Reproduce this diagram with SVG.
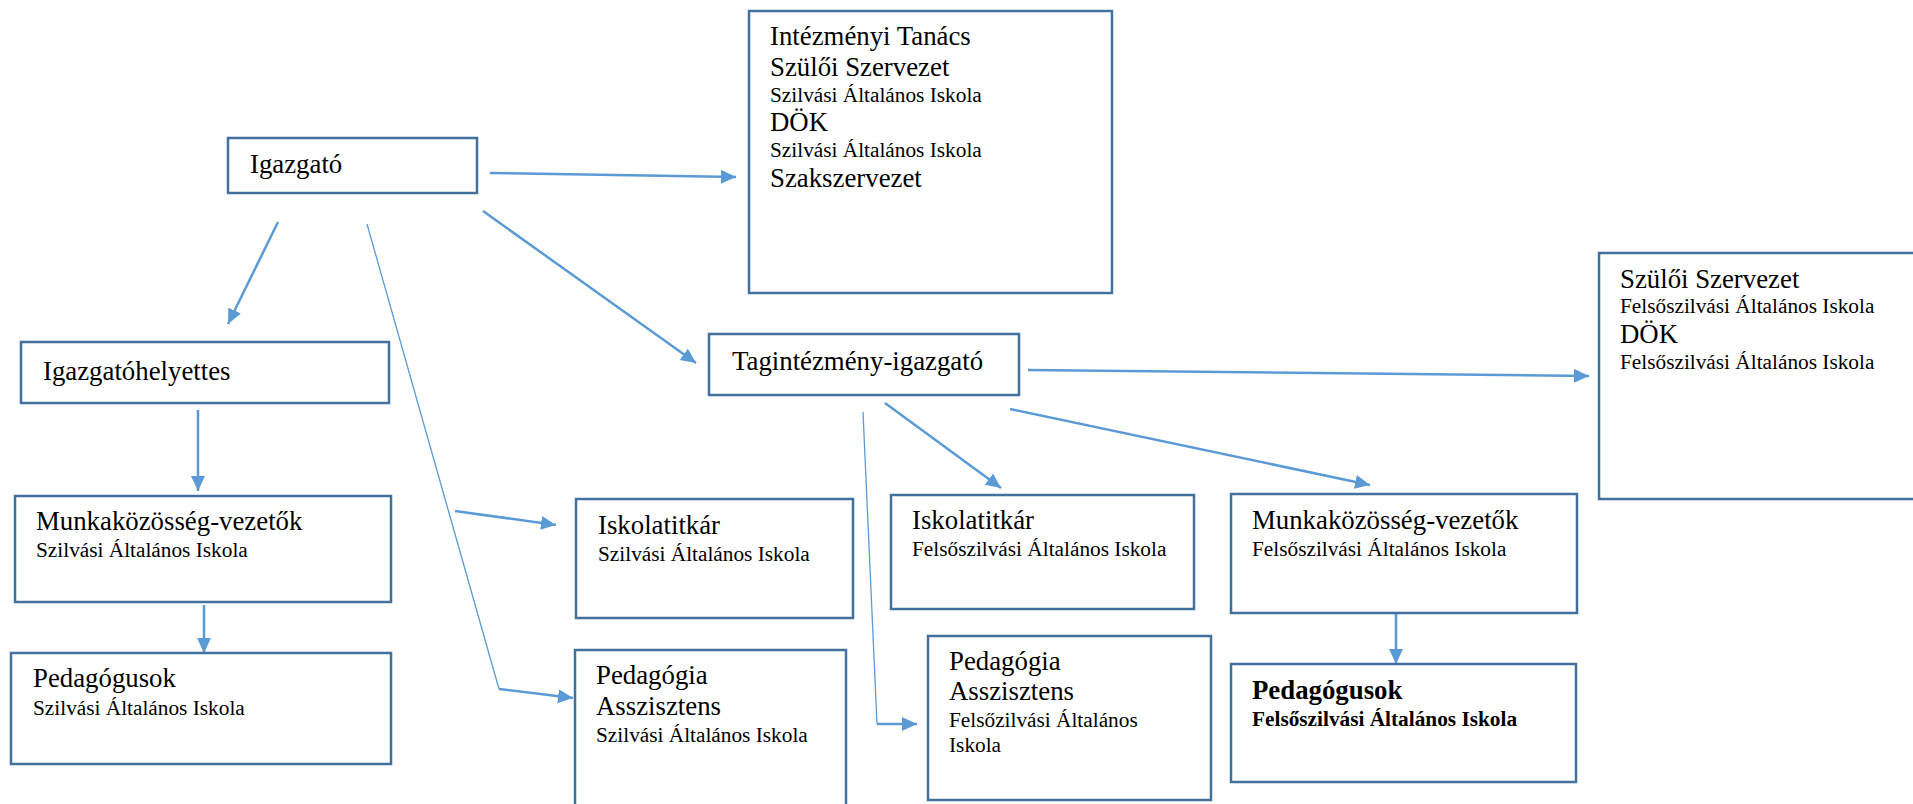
<svg xmlns="http://www.w3.org/2000/svg" width="1913" height="804" viewBox="0 0 1913 804">
<style>
.box{fill:#ffffff;stroke:#41719C;stroke-width:2.5}
.t{font-family:"Liberation Serif","Times New Roman",serif;fill:#000000}
.big{font-size:26.8px}
.sm{font-size:21.3px}
.b{font-weight:bold}
.arr{stroke:#5B9BD5;stroke-width:2.5;fill:none;marker-end:url(#ah)}
.thin{stroke:#5B9BD5;stroke-width:1.3;fill:none}
</style>
<defs>
<marker id="ah" markerUnits="userSpaceOnUse" markerWidth="16" markerHeight="16" refX="15" refY="7" orient="auto">
<path d="M0,0 L15,7 L0,14 z" fill="#5B9BD5"/>
</marker>
</defs>
<rect width="1913" height="804" fill="#ffffff"/>
<g id="connectors">
<line class="arr" x1="490" y1="173" x2="736" y2="177"/>
<line class="arr" x1="278" y1="222" x2="228" y2="324"/>
<line class="arr" x1="483" y1="211" x2="696" y2="363"/>
<line class="arr" x1="198" y1="410" x2="198" y2="491"/>
<line class="arr" x1="204" y1="605" x2="204" y2="653"/>
<line class="thin" x1="367" y1="224" x2="499" y2="689"/>
<line class="arr" x1="499" y1="689" x2="573" y2="698"/>
<line class="arr" x1="455" y1="511" x2="556" y2="525"/>
<line class="arr" x1="1028" y1="370" x2="1589" y2="376"/>
<line class="arr" x1="885" y1="403" x2="1001" y2="488"/>
<line class="arr" x1="1010" y1="409" x2="1370" y2="485"/>
<line class="thin" x1="863" y1="412" x2="877" y2="724"/>
<line class="arr" x1="877" y1="724" x2="917" y2="724"/>
<line class="arr" x1="1396" y1="613" x2="1396" y2="664"/>
</g>
<g id="igazgato">
<rect class="box" x="228" y="138" width="249" height="55"/>
<text class="t big" x="250" y="173">Igazgató</text>
</g>
<g id="intezmenyi">
<rect class="box" x="749" y="11" width="363" height="282"/>
<text class="t big" x="770" y="45">Intézményi Tanács</text>
<text class="t big" x="770" y="76">Szülői Szervezet</text>
<text class="t sm" x="770" y="102">Szilvási Általános Iskola</text>
<text class="t big" x="770" y="131">DÖK</text>
<text class="t sm" x="770" y="157">Szilvási Általános Iskola</text>
<text class="t big" x="770" y="187">Szakszervezet</text>
</g>
<g id="igazgatohelyettes">
<rect class="box" x="21" y="342" width="368" height="61"/>
<text class="t big" x="43" y="380">Igazgatóhelyettes</text>
</g>
<g id="tagintezmeny">
<rect class="box" x="709" y="334" width="310" height="61"/>
<text class="t big" x="732" y="370">Tagintézmény-igazgató</text>
</g>
<g id="szuloi2">
<rect class="box" x="1599" y="253" width="330" height="246"/>
<text class="t big" x="1620" y="288">Szülői Szervezet</text>
<text class="t sm" x="1620" y="313">Felsőszilvási Általános Iskola</text>
<text class="t big" x="1620" y="343">DÖK</text>
<text class="t sm" x="1620" y="369">Felsőszilvási Általános Iskola</text>
</g>
<g id="munka1">
<rect class="box" x="15" y="496" width="376" height="106"/>
<text class="t big" x="36" y="530">Munkaközösség-vezetők</text>
<text class="t sm" x="36" y="557">Szilvási Általános Iskola</text>
</g>
<g id="ped1">
<rect class="box" x="11" y="653" width="380" height="111"/>
<text class="t big" x="33" y="687">Pedagógusok</text>
<text class="t sm" x="33" y="715">Szilvási Általános Iskola</text>
</g>
<g id="iskolatitkar1">
<rect class="box" x="576" y="499" width="277" height="119"/>
<text class="t big" x="598" y="534">Iskolatitkár</text>
<text class="t sm" x="598" y="561">Szilvási Általános Iskola</text>
</g>
<g id="pedasszisztens1">
<rect class="box" x="575" y="650" width="271" height="170"/>
<text class="t big" x="596" y="684">Pedagógia</text>
<text class="t big" x="596" y="715">Asszisztens</text>
<text class="t sm" x="596" y="742">Szilvási Általános Iskola</text>
</g>
<g id="iskolatitkar2">
<rect class="box" x="891" y="495" width="303" height="114"/>
<text class="t big" x="912" y="529">Iskolatitkár</text>
<text class="t sm" x="912" y="556">Felsőszilvási Általános Iskola</text>
</g>
<g id="munka2">
<rect class="box" x="1231" y="494" width="346" height="119"/>
<text class="t big" x="1252" y="529">Munkaközösség-vezetők</text>
<text class="t sm" x="1252" y="556">Felsőszilvási Általános Iskola</text>
</g>
<g id="pedasszisztens2">
<rect class="box" x="928" y="636" width="283" height="164"/>
<text class="t big" x="949" y="670">Pedagógia</text>
<text class="t big" x="949" y="700">Asszisztens</text>
<text class="t sm" x="949" y="727">Felsőzilvási Általános</text>
<text class="t sm" x="949" y="752">Iskola</text>
</g>
<g id="ped2">
<rect class="box" x="1231" y="664" width="345" height="118"/>
<text class="t big b" x="1252" y="699">Pedagógusok</text>
<text class="t sm b" x="1252" y="726">Felsőszilvási Általános Iskola</text>
</g>
</svg>
